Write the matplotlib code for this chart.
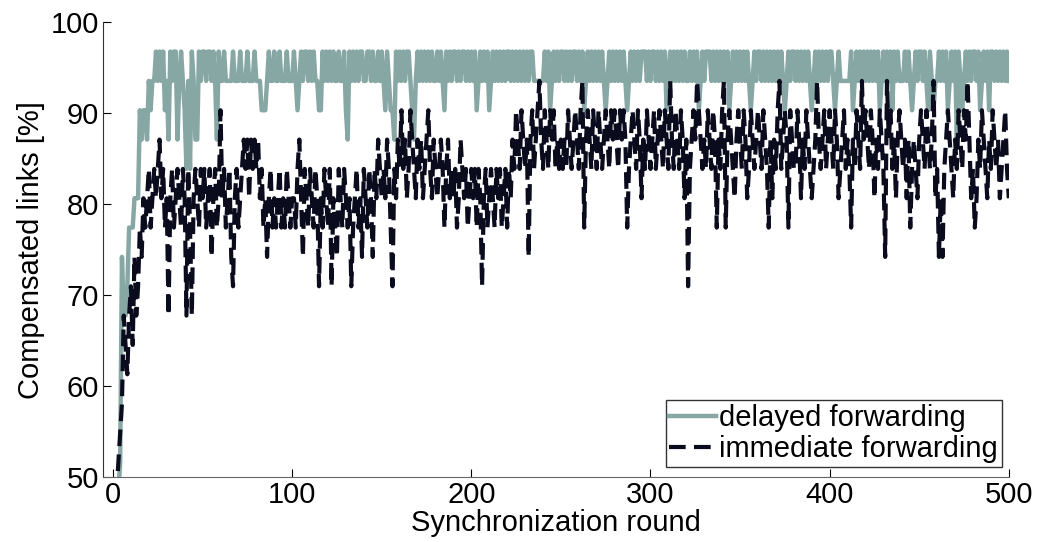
import numpy as np
import matplotlib.pyplot as plt

# compensated links per synchronization round (out of 31 links)
N_LINKS = 31

delayed = [
    13, 14, 15, 16, 23, 21, 21, 22, 24, 24,
    24, 25, 25, 25, 28, 27, 28, 28, 27, 29,
    28, 29, 29, 30, 29, 30, 29, 30, 28, 29,
    27, 30, 29, 30, 30, 27, 29, 30, 29, 28,
    26, 29, 26, 30, 29, 27, 27, 30, 29, 30,
    30, 29, 30, 30, 29, 30, 29, 27, 30, 29,
    29, 30, 29, 29, 29, 29, 30, 29, 29, 29,
    30, 29, 29, 29, 30, 29, 29, 29, 30, 29,
    29, 29, 28, 28, 28, 29, 30, 29, 29, 30,
    29, 29, 30, 29, 29, 29, 30, 29, 29, 29,
    30, 29, 28, 29, 30, 29, 30, 30, 29, 30,
    29, 30, 29, 29, 28, 28, 30, 29, 30, 29,
    30, 29, 30, 29, 29, 30, 29, 29, 30, 28,
    27, 30, 29, 30, 29, 30, 29, 30, 30, 29,
    29, 30, 30, 29, 30, 29, 29, 30, 29, 30,
    29, 28, 30, 29, 28, 28, 27, 30, 29, 30,
    29, 30, 29, 30, 30, 29, 28, 27, 29, 30,
    29, 30, 29, 30, 29, 30, 29, 30, 29, 29,
    30, 29, 30, 29, 28, 30, 29, 30, 29, 30,
    30, 29, 30, 29, 30, 30, 29, 30, 29, 30,
    29, 30, 28, 29, 30, 29, 30, 29, 30, 28,
    29, 30, 29, 30, 29, 30, 29, 30, 29, 30,
    30, 29, 30, 29, 30, 29, 30, 29, 30, 29,
    30, 29, 30, 30, 29, 29, 29, 29, 29, 29,
    30, 29, 30, 28, 29, 30, 29, 30, 29, 30,
    30, 29, 30, 29, 30, 29, 30, 30, 29, 30,
    29, 30, 28, 29, 30, 29, 30, 29, 30, 29,
    30, 29, 30, 29, 28, 29, 30, 29, 30, 29,
    30, 29, 30, 29, 30, 29, 28, 29, 30, 29,
    30, 29, 30, 29, 30, 30, 30, 29, 30, 29,
    30, 30, 29, 30, 29, 30, 29, 30, 28, 29,
    30, 29, 30, 29, 30, 29, 30, 29, 30, 29,
    29, 30, 29, 30, 29, 30, 28, 29, 30, 29,
    30, 30, 30, 29, 30, 29, 30, 29, 30, 29,
    30, 29, 30, 28, 29, 30, 29, 30, 29, 30,
    29, 30, 29, 30, 29, 28, 29, 30, 29, 30,
    30, 29, 30, 29, 30, 29, 30, 29, 30, 29,
    30, 29, 30, 29, 28, 29, 30, 29, 30, 30,
    29, 30, 29, 30, 29, 30, 29, 30, 29, 28,
    29, 30, 29, 30, 29, 30, 29, 30, 29, 30,
    30, 29, 28, 29, 30, 29, 29, 29, 29, 29,
    29, 30, 28, 29, 30, 29, 30, 29, 30, 29,
    30, 29, 30, 29, 30, 29, 30, 28, 29, 30,
    29, 30, 29, 30, 28, 30, 29, 30, 29, 29,
    29, 30, 29, 30, 29, 28, 29, 30, 29, 30,
    30, 29, 30, 29, 28, 30, 29, 28, 29, 29,
    30, 29, 30, 29, 30, 28, 29, 30, 29, 30,
    27, 30, 29, 28, 29, 30, 29, 30, 29, 30,
    30, 29, 30, 28, 29, 30, 29, 30, 28, 30,
    30, 29, 30, 29, 30, 29, 30, 29, 30, 29,
]

immediate = [
    14, 15, 16, 17, 18, 21, 20, 19, 21, 22,
    20, 23, 21, 22, 24, 23, 25, 24, 25, 26,
    24, 25, 26, 25, 26, 27, 25, 26, 24, 25,
    21, 25, 26, 24, 25, 26, 25, 24, 26, 25,
    21, 26, 24, 21, 25, 26, 25, 24, 26, 25,
    26, 24, 25, 26, 23, 25, 26, 24, 25, 28,
    25, 26, 24, 25, 26, 23, 22, 25, 26, 24,
    25, 26, 27, 26, 27, 25, 27, 26, 27, 26,
    27, 25, 26, 24, 25, 23, 25, 26, 24, 25,
    24, 25, 26, 24, 25, 24, 26, 25, 24, 25,
    25, 24, 26, 27, 25, 23, 26, 25, 24, 26,
    25, 24, 26, 25, 22, 25, 24, 26, 25, 24,
    26, 22, 25, 24, 23, 26, 25, 24, 26, 25,
    24, 25, 22, 24, 25, 26, 24, 25, 23, 26,
    25, 24, 26, 25, 23, 26, 25, 27, 26, 25,
    26, 25, 27, 26, 24, 22, 26, 25, 27, 26,
    28, 26, 27, 25, 26, 28, 27, 26, 25, 27,
    26, 27, 25, 26, 27, 28, 26, 25, 27, 26,
    25, 26, 27, 26, 24, 26, 27, 25, 26, 25,
    26, 24, 25, 27, 26, 25, 26, 24, 25, 26,
    25, 26, 24, 26, 25, 22, 25, 26, 24, 25,
    26, 25, 24, 26, 25, 26, 24, 25, 26, 24,
    26, 25, 27, 26, 28, 27, 26, 28, 27, 26,
    27, 23, 27, 28, 26, 27, 28, 29, 27, 26,
    28, 27, 26, 28, 27, 28, 26, 27, 26, 27,
    26, 27, 26, 28, 27, 26, 27, 28, 27, 26,
    28, 29, 24, 27, 28, 27, 26, 28, 27, 26,
    28, 27, 26, 27, 28, 27, 26, 28, 27, 28,
    27, 26, 28, 27, 28, 27, 24, 26, 27, 28,
    27, 26, 28, 27, 25, 27, 26, 28, 27, 26,
    27, 28, 26, 27, 28, 27, 26, 28, 27, 26,
    29, 27, 26, 28, 27, 26, 28, 27, 25, 27,
    22, 26, 27, 28, 27, 29, 28, 27, 26, 27,
    26, 28, 27, 26, 28, 27, 24, 27, 26, 28,
    29, 24, 27, 28, 27, 26, 25, 27, 28, 27,
    26, 28, 27, 25, 26, 28, 27, 26, 27, 28,
    27, 26, 28, 27, 26, 24, 27, 25, 27, 26,
    28, 29, 26, 27, 28, 27, 24, 28, 27, 26,
    26, 28, 27, 25, 27, 26, 28, 27, 26, 25,
    26, 27, 29, 27, 26, 27, 28, 26, 27, 28,
    27, 26, 28, 27, 25, 26, 27, 28, 26, 27,
    26, 24, 27, 26, 28, 27, 26, 29, 27, 28,
    27, 26, 28, 27, 25, 27, 26, 28, 27, 26,
    23, 29, 27, 28, 26, 27, 25, 27, 28, 27,
    26, 27, 25, 27, 24, 26, 27, 26, 25, 27,
    28, 27, 26, 28, 27, 26, 27, 29, 25, 26,
    23, 25, 23, 26, 27, 28, 27, 26, 25, 27,
    26, 28, 27, 26, 28, 27, 29, 27, 25, 26,
    24, 25, 27, 26, 28, 27, 26, 25, 27, 26,
    28, 27, 26, 27, 25, 26, 27, 28, 26, 25,
]

rounds = np.arange(1, len(delayed) + 1)
delayed_pct = np.array(delayed) / N_LINKS * 100
immediate_pct = np.array(immediate) / N_LINKS * 100

plt.rcParams['font.family'] = ['Liberation Sans', 'DejaVu Sans']

fig = plt.figure(figsize=(10.4, 5.42), dpi=100)
ax = fig.add_axes([0.099, 0.12, 0.871, 0.839])

ax.plot(rounds, delayed_pct, color='#87a7a5', lw=3.2, label='delayed forwarding')
ax.plot(rounds, immediate_pct, color='#0b0b1e', lw=3.0, dashes=(4, 2),
        label='immediate forwarding')

ax.set_xlim(-5.6, 500)
ax.set_ylim(50, 100)
ax.set_xticks([0, 100, 200, 300, 400, 500])
ax.set_yticks([50, 60, 70, 80, 90, 100])
ax.tick_params(direction='in', length=6, labelsize=21, width=0.8, pad=3)
ax.spines['top'].set_visible(False)
ax.spines['right'].set_visible(False)
ax.spines['left'].set_color('#333333')
ax.spines['bottom'].set_color('#666666')

ax.set_xlabel('Synchronization round', fontsize=21, labelpad=0)
ax.set_ylabel('Compensated links [%]', fontsize=21, labelpad=4)

leg = ax.legend(loc='lower right', bbox_to_anchor=(0.992, 0.022), fontsize=21,
                frameon=True, fancybox=False, borderaxespad=0, borderpad=0.12,
                handlelength=1.6, handletextpad=0.12, labelspacing=0.12)
leg.get_frame().set_edgecolor('black')
leg.get_frame().set_linewidth(1.0)

plt.savefig('out.png', dpi=100)
